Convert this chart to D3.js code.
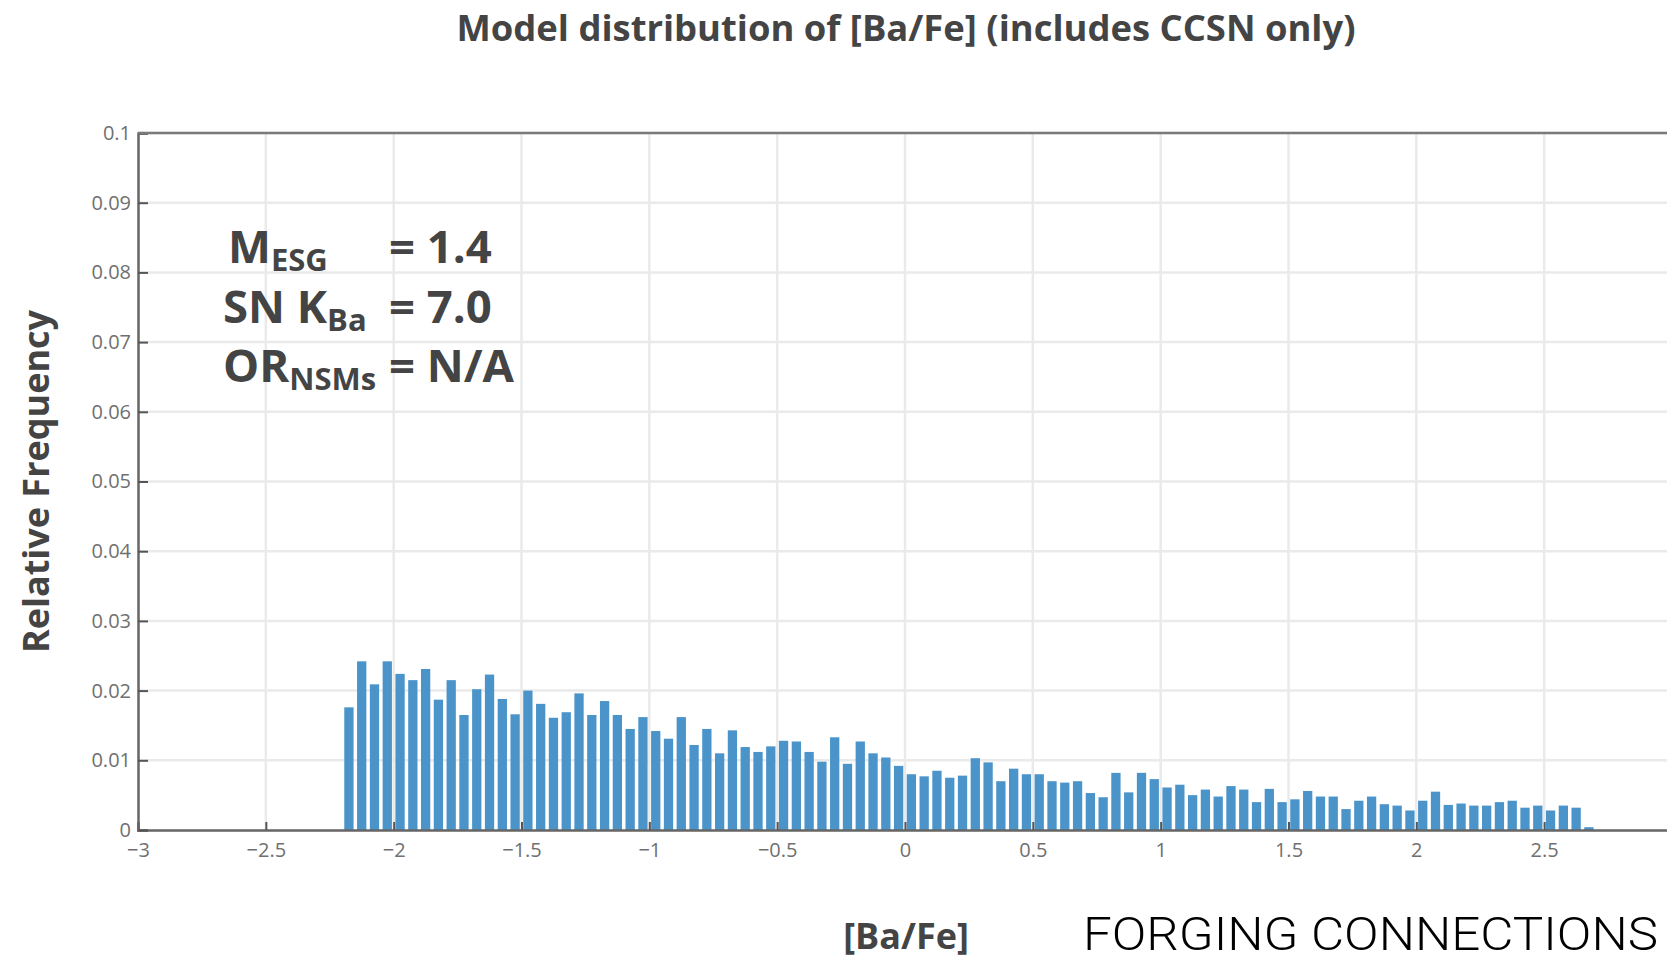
<!DOCTYPE html>
<html>
<head>
<meta charset="utf-8">
<script src="https://cdn.jsdelivr.net/npm/d3@7"></script>
<style>
  html, body { margin: 0; padding: 0; background: #fff; overflow: hidden; }
  svg { display: block; }
</style>
</head>
<body>
<svg id="chart" width="1667" height="960"></svg>
<script>
// Histogram of [Ba/Fe]: bins of width 0.05 starting at -2.2
const binStart = -2.2;
const binWidth = 0.05;
const relativeFrequency = [
  0.0176, 0.0242, 0.0209, 0.0242, 0.0224, 0.0215, 0.0231, 0.0187, 0.0215, 0.0165,
  0.0202, 0.0223, 0.0188, 0.0166, 0.0200, 0.0181, 0.0161, 0.0169, 0.0196, 0.0165,
  0.0185, 0.0165, 0.0145, 0.0162, 0.0142, 0.0131, 0.0162, 0.0122, 0.0145, 0.0110,
  0.0143, 0.0119, 0.0112, 0.0120, 0.0128, 0.0127, 0.0112, 0.0098, 0.0133, 0.0095,
  0.0127, 0.0110, 0.0104, 0.0092, 0.0080, 0.0077, 0.0085, 0.0075, 0.0078, 0.0103,
  0.0097, 0.0070, 0.0088, 0.0080, 0.0080, 0.0070, 0.0068, 0.0070, 0.0053, 0.0047,
  0.0082, 0.0054, 0.0082, 0.0073, 0.0061, 0.0065, 0.0050, 0.0058, 0.0048, 0.0063,
  0.0058, 0.0040, 0.0059, 0.0040, 0.0044, 0.0056, 0.0048, 0.0048, 0.0030, 0.0042,
  0.0048, 0.0037, 0.0035, 0.0028, 0.0042, 0.0055, 0.0036, 0.0038, 0.0035, 0.0035,
  0.0040, 0.0042, 0.0032, 0.0035, 0.0028, 0.0035, 0.0032, 0.0004
];
const xTicks = [-3, -2.5, -2, -1.5, -1, -0.5, 0, 0.5, 1, 1.5, 2, 2.5, 3];
const yTicks = [0, 0.01, 0.02, 0.03, 0.04, 0.05, 0.06, 0.07, 0.08, 0.09, 0.1];

const titleText = "Model distribution of [Ba/Fe] (includes CCSN only)";
const xTitle = "[Ba/Fe]";
const yTitle = "Relative Frequency";
const footerText = "FORGING CONNECTIONS";
// parameter box: main symbol, subscript, value
const params = [
  { main: "M", sub: "ESG", value: "= 1.4" },
  { main: "SN K", sub: "Ba", value: "= 7.0" },
  { main: "OR", sub: "NSMs", value: "= N/A" }
];

const svg = d3.select("#chart");
const plotLeft = 138, plotRight = 1672, plotTop = 133, plotBottom = 830;
const x = d3.scaleLinear().domain([-3, 3]).range([plotLeft, plotRight]);
const y = d3.scaleLinear().domain([0, 0.1]).range([plotBottom, plotTop]);

const font = "'Open Sans', 'Noto Sans', sans-serif";
const ink = "#444";

// background grid
const grid = svg.append("g");
grid.selectAll("line.v").data(xTicks.slice(1)).join("line")
  .attr("x1", d => x(d)).attr("x2", d => x(d))
  .attr("y1", plotTop).attr("y2", plotBottom)
  .attr("stroke", "#eaeaea").attr("stroke-width", 2.5);
grid.selectAll("line.h").data(yTicks.slice(1)).join("line")
  .attr("x1", plotLeft).attr("x2", plotRight)
  .attr("y1", d => y(d)).attr("y2", d => y(d))
  .attr("stroke", "#eaeaea").attr("stroke-width", 2.5);

// bars
const bins = relativeFrequency.map((v, i) => ({
  x0: binStart + i * binWidth,
  x1: binStart + (i + 1) * binWidth,
  v
}));
const gap = 1.75;
svg.append("g").selectAll("rect").data(bins).join("rect")
  .attr("x", d => x(d.x0) + gap)
  .attr("width", d => x(d.x1) - x(d.x0) - 2 * gap)
  .attr("y", d => y(d.v))
  .attr("height", d => y(0) - y(d.v))
  .attr("fill", "#4b94c9");

// axes with inside ticks
const fmtX = d => d === 0 ? "0" : (d < 0 ? "\u2212" : "") + Math.abs(d);
const fmtY = d => d === 0 ? "0" : String(+d.toFixed(2));

const xAxis = svg.append("g").attr("transform", `translate(0,${plotBottom})`)
  .call(d3.axisBottom(x).tickValues(xTicks).tickFormat(fmtX).tickSize(-8).tickPadding(13));
const yAxis = svg.append("g").attr("transform", `translate(${plotLeft},0)`)
  .call(d3.axisLeft(y).tickValues(yTicks).tickFormat(fmtY).tickSize(-10).tickPadding(7));

[xAxis, yAxis].forEach(g => {
  g.select(".domain").attr("stroke", "#666").attr("stroke-width", 2.5);
  g.selectAll(".tick line").attr("stroke", "#555").attr("stroke-width", 2);
  g.selectAll(".tick text").attr("fill", "#707070")
    .style("font-family", font).style("font-size", "20px");
});
// top frame line
svg.append("line")
  .attr("x1", plotLeft).attr("x2", plotRight).attr("y1", plotTop).attr("y2", plotTop)
  .attr("stroke", "#7a7a7a").attr("stroke-width", 2.5);

// parameter annotation
const lineY = [263, 323, 382];
const annot = svg.append("g").attr("fill", ink)
  .style("font-family", font).style("font-weight", 700);
params.forEach((p, i) => {
  const t = annot.append("text")
    .attr("x", i === 0 ? 228 : 223).attr("y", lineY[i])
    .style("font-size", "45.5px");
  t.append("tspan").text(p.main);
  t.append("tspan").attr("dy", 8).style("font-size", "31px").text(p.sub);
  annot.append("text")
    .attr("x", 389).attr("y", lineY[i])
    .style("font-size", "45.5px")
    .text(p.value);
});

// titles
svg.append("text")
  .attr("x", 906).attr("y", 41)
  .attr("text-anchor", "middle").attr("fill", ink)
  .attr("textLength", 899).attr("lengthAdjust", "spacingAndGlyphs")
  .style("font-family", font).style("font-weight", 700).style("font-size", "35px")
  .text(titleText);

svg.append("text")
  .attr("x", 906).attr("y", 949)
  .attr("text-anchor", "middle").attr("fill", ink)
  .style("font-family", font).style("font-weight", 700).style("font-size", "36px")
  .text(xTitle);

svg.append("text")
  .attr("transform", `translate(49,${(plotTop + plotBottom) / 2}) rotate(-90)`)
  .attr("text-anchor", "middle").attr("fill", ink)
  .style("font-family", font).style("font-weight", 700).style("font-size", "36px")
  .text(yTitle);

svg.append("text")
  .attr("x", 1083).attr("y", 950)
  .attr("fill", "#000")
  .attr("textLength", 575).attr("lengthAdjust", "spacingAndGlyphs")
  .style("font-family", "Roboto, 'Liberation Sans', sans-serif")
  .style("font-weight", 300).style("font-size", "47px")
  .text(footerText);
</script>
</body>
</html>
